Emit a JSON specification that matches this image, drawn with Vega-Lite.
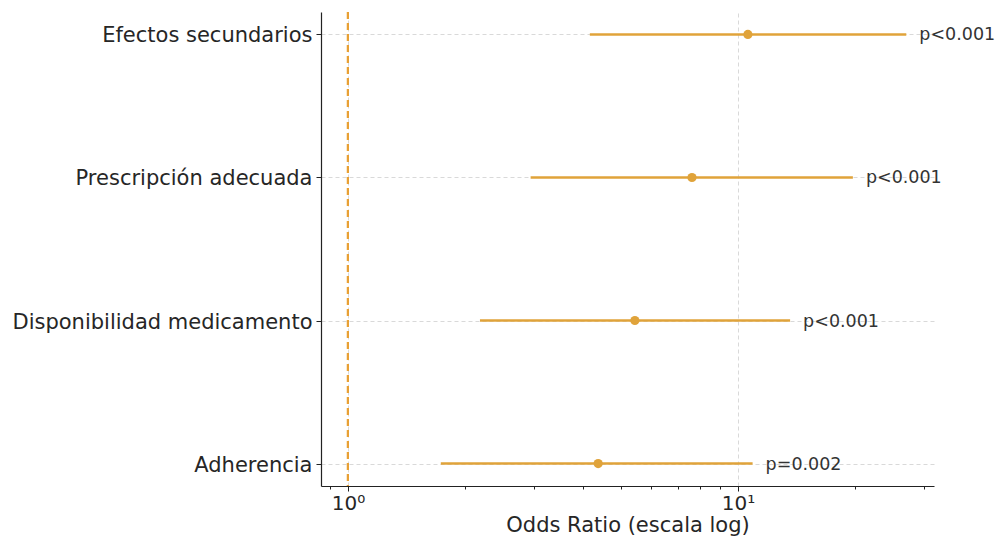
{
  "$schema": "https://vega.github.io/schema/vega-lite/v6.json",
  "autosize": "none",
  "width": 613,
  "height": 474,
  "padding": {"left": 321, "top": 12, "right": 65, "bottom": 52},
  "background": "white",
  "config": {
    "font": "DejaVu Sans",
    "view": {"stroke": null},
    "axis": {"labelFont": "DejaVu Sans", "titleFont": "DejaVu Sans", "domainColor": "#222222", "tickColor": "#222222", "labelColor": "#262626", "titleColor": "#262626", "labelLimit": 500}
  },
  "data": {
    "values": [
      {"label": "Efectos secundarios", "or": 10.6, "lower": 4.17, "upper": 27.0, "p": "p<0.001"},
      {"label": "Prescripción adecuada", "or": 7.62, "lower": 2.94, "upper": 19.7, "p": "p<0.001"},
      {"label": "Disponibilidad medicamento", "or": 5.44, "lower": 2.18, "upper": 13.6, "p": "p<0.001"},
      {"label": "Adherencia", "or": 4.38, "lower": 1.73, "upper": 10.9, "p": "p=0.002"}
    ]
  },
  "resolve": {"axis": {"x": "independent"}},
  "layer": [
    {
      "mark": {"type": "rule", "strokeWidth": 2.5, "color": "#E0A33A"},
      "encoding": {
        "y": {
          "field": "label", "type": "nominal",
          "sort": ["Efectos secundarios", "Prescripción adecuada", "Disponibilidad medicamento", "Adherencia"],
          "scale": {"type": "point", "padding": 0.157},
          "axis": {"title": null, "labelFontSize": 21, "labelPadding": 4, "labelOffset": 1.5, "tickSize": 5, "domainWidth": 1.2, "grid": true, "gridColor": "#cfcfcf", "gridDash": [4, 3], "gridWidth": 0.8}
        },
        "x": {
          "field": "lower", "type": "quantitative",
          "scale": {"type": "log", "domain": [0.853, 31.8], "nice": false, "zero": false},
          "axis": {"orient": "bottom", "values": [1, 10], "labelExpr": "datum.value == 1 ? '10⁰' : '10¹'", "labelFontSize": 20, "labelPadding": 2, "tickSize": 5, "domainWidth": 1.2, "grid": true, "gridColor": "#cfcfcf", "gridDash": [4, 3], "gridWidth": 0.8, "title": "Odds Ratio (escala log)", "titleFontSize": 21, "titleFontWeight": "normal", "titleBaseline": "alphabetic", "titleY": 45}
        },
        "x2": {"field": "upper"}
      }
    },
    {
      "mark": {"type": "point", "filled": true, "size": 85, "opacity": 1, "color": "#E0A33A"},
      "encoding": {
        "y": {"field": "label", "type": "nominal", "sort": ["Efectos secundarios", "Prescripción adecuada", "Disponibilidad medicamento", "Adherencia"]},
        "x": {"field": "or", "type": "quantitative",
          "axis": {"orient": "bottom", "values": [0.9, 2, 3, 4, 5, 6, 7, 8, 9, 20, 30], "labels": false, "tickSize": 3, "domain": false, "grid": false, "title": null}}
      }
    },
    {
      "mark": {"type": "text", "align": "left", "baseline": "middle", "dx": 13, "dy": 1, "fontSize": 17.5, "color": "#333333", "font": "DejaVu Sans"},
      "encoding": {
        "y": {"field": "label", "type": "nominal", "sort": ["Efectos secundarios", "Prescripción adecuada", "Disponibilidad medicamento", "Adherencia"]},
        "x": {"field": "upper", "type": "quantitative", "axis": null},
        "text": {"field": "p"}
      }
    },
    {
      "mark": {"type": "rule", "strokeDash": [7, 4], "strokeWidth": 2, "color": "#E8A035"},
      "encoding": {"x": {"datum": 1, "type": "quantitative", "axis": null}}
    }
  ]
}
